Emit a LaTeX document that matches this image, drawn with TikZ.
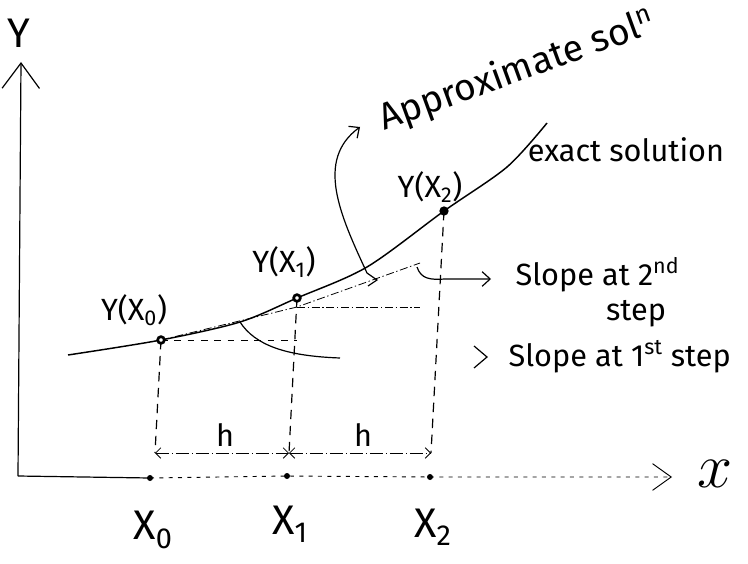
\documentclass[tikz,border=0pt]{standalone}
\usepackage{fontspec}
\setmainfont{Fira Sans}
\usetikzlibrary{arrows.meta}
\begin{document}
\begin{tikzpicture}[x=0.75pt,y=-0.75pt,line width=0.9pt,
  lbl/.style={inner sep=0pt,font=\fontsize{23}{26}\selectfont},
  biglbl/.style={inner sep=0pt,font=\fontsize{31}{34}\selectfont},
  guide/.style={dash pattern=on 7pt off 5pt,line width=0.9pt},
  thinguide/.style={dash pattern=on 5pt off 5pt,line width=0.6pt},
  approx/.style={dash pattern=on 6pt off 2pt on 1pt off 2pt,line width=0.6pt},
  axisdots/.style={dash pattern=on 3pt off 4pt,line width=0.7pt},
  hdim/.style={dash pattern=on 10pt off 2pt on 1pt off 2pt,line width=0.6pt},
  axisdot/.style={circle,fill=black,inner sep=0pt,minimum size=4.5pt},
  ringdot/.style={circle,draw=black,line width=2pt,fill=white,inner sep=0pt,minimum size=5pt},
  soliddot/.style={circle,fill=black,inner sep=0pt,minimum size=7pt},
  bigbarb/.style={-{Straight Barb[length=19pt,width=28pt]}},
  xbarb/.style={-{Straight Barb[length=14pt,width=20pt]}},
  smallbarb/.style={-{Straight Barb[length=6pt,width=11pt]}},
  hbarbs/.style={{Straight Barb[length=4pt,width=8pt]}-{Straight Barb[length=4pt,width=8pt]}}
]
\useasboundingbox (0,0) rectangle (748,563);

% key points
\coordinate (ytop) at (21,62);
\coordinate (origin) at (18,476);
\coordinate (xend) at (672,477);
\coordinate (x0) at (150,478);
\coordinate (x1) at (287,476);
\coordinate (x2) at (430,477);
\coordinate (y0) at (161,340);
\coordinate (y1) at (297,298);
\coordinate (y2) at (444,211);
\coordinate (h0) at (155,453);
\coordinate (h1) at (289,453);
\coordinate (h2) at (431,453);
\coordinate (a1) at (297,307);
\coordinate (a2) at (420,263);

% axes
\draw[bigbarb] (origin) -- (ytop);
\draw (origin) -- (x0);
\draw[axisdots,xbarb] (x0) -- (x1) -- (x2) -- (xend);

% exact solution curve
\draw[line width=1.1pt] plot[smooth,tension=0.5] coordinates
  {(68,355) (161,340) (240,322) (297,298) (367,267) (444,211) (507,167) (547,123)};

% approximate solution
\draw[approx] (y0) -- (a1) -- (a2);
\draw[thinguide] (y0) -- (y0 -| a1);
\draw[approx] (a1) -- (a1 -| a2);

% verticals
\draw[guide] (y0) -- (h0);
\draw[guide] (y1) -- (h1);
\draw[guide] (y2) -- (h2);

% step widths
\draw[hdim,hbarbs] (h0) -- (h1);
\draw[hdim,hbarbs] (h1) -- (h2);

% slope pointers
\coordinate (s1a) at (240,322);
\coordinate (s1b) at (340,358);
\draw (s1a) .. controls (255,345) and (285,356) .. (s1b);
\coordinate (s1tip) at (487,357);
\draw (474,346) -- (s1tip) -- (474,368);

\coordinate (s2a) at (417,267);
\coordinate (s2b) at (491,279);
\draw[smallbarb] (s2a) .. controls (421,279) and (430,280) .. (445,279) -- (s2b);

% approximate pointer
\coordinate (apA) at (367,273);
\coordinate (apB) at (360,127);
\draw[smallbarb] (368,286) -- (377,280) -- (apA) .. controls (340,215) and (315,160) .. (apB);

% dots
\node[axisdot] (X0) at (x0) {};
\node[axisdot] (X1) at (x1) {};
\node[axisdot] (X2) at (x2) {};
\node[ringdot] (Y0) at (y0) {};
\node[ringdot] (Y1) at (y1) {};
\node[soliddot] (Y2) at (y2) {};

% labels
\node[biglbl] (LY) at (19,33) {Y};
\node[biglbl] (LX0) at (153,530) {X\textsubscript{0}};
\node[biglbl] (LX1) at (290,524) {X\textsubscript{1}};
\node[biglbl] (LX2) at (433,527) {X\textsubscript{2}};
\node[inner sep=0pt,font=\fontsize{24}{24}\selectfont,scale=1.9] (Lx) at (715,474) {$x$};
\node[lbl] (LY0) at (134,310) {Y(X\textsubscript{0})};
\node[lbl] (LY1) at (284,262) {Y(X\textsubscript{1})};
\node[lbl] (LY2) at (430,187) {Y(X\textsubscript{2})};
\node[lbl] (Lh1) at (225,435) {h};
\node[lbl] (Lh2) at (363,435) {h};
\node[inner sep=0pt,font=\fontsize{28}{30}\selectfont,anchor=base west,rotate=20] (Lap) at (384,131) {Approximate sol\textsuperscript{n}};
\node[lbl] (Lex) at (626,150) {exact solution};
\node[lbl,anchor=west] (Ls2) at (515,275) {Slope at 2\textsuperscript{nd}};
\node[lbl] (Lst) at (636,314) {step};
\node[lbl,anchor=west] (Ls1) at (508,357) {Slope at 1\textsuperscript{st} step};
\end{tikzpicture}
\end{document}
